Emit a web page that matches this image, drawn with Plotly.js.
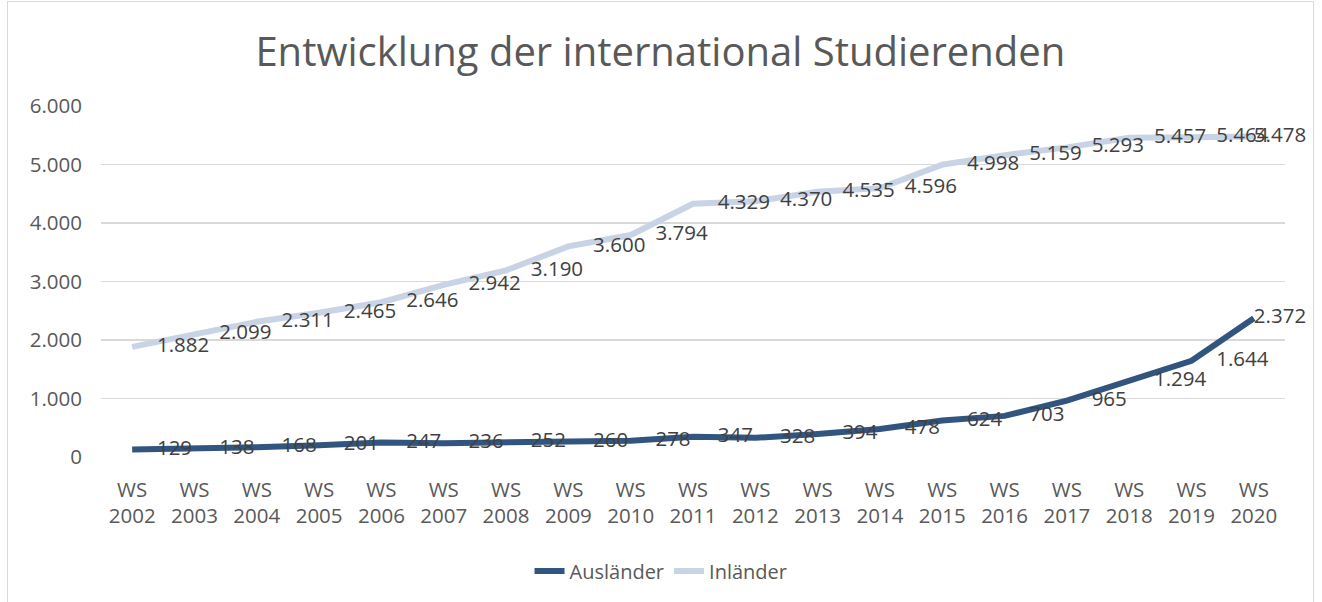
<!DOCTYPE html>
<html>
<head>
<meta charset="utf-8">
<script src="https://cdn.plot.ly/plotly-3.0.1.min.js"></script>
<style>
  html, body { margin: 0; padding: 0; background: #fff; }
  #chart { width: 1322px; height: 602px; position: absolute; left: 0; top: 0; }
  #frame { position: absolute; left: 7px; top: 1px; width: 1307px; height: 640px; border: 1px solid #d9d9d9; pointer-events: none; box-sizing: border-box; }
</style>
</head>
<body>
<div id="chart"></div>
<div id="frame"></div>
<script>
const semesters = ["WS 2002","WS 2003","WS 2004","WS 2005","WS 2006","WS 2007","WS 2008","WS 2009","WS 2010","WS 2011","WS 2012","WS 2013","WS 2014","WS 2015","WS 2016","WS 2017","WS 2018","WS 2019","WS 2020"];
const auslaender = [129,138,168,201,247,236,252,260,278,347,328,394,478,624,703,965,1294,1644,2372];
const inlaender = [1882,2099,2311,2465,2646,2942,3190,3600,3794,4329,4370,4535,4596,4998,5159,5293,5457,5464,5478];
const yTicks = [0,1000,2000,3000,4000,5000,6000];

const cats = semesters.map(s => s.replace(' ', '<br>'));
function fmt(v) { return String(v).replace(/\B(?=(\d{3})+(?!\d))/g, '.'); }

const FONT = '"Open Sans", "Noto Sans", sans-serif';
const darkBlue = '#32557f';
const lightBlue = '#c8d3e5';

function labelTrace(vals) {
  const last = vals.length - 1;
  return {
    x: cats, y: vals, type: 'scatter', mode: 'markers+text',
    text: vals.map(fmt), textposition: 'middle right',
    textfont: {family: FONT, size: 20.5, color: '#404040'},
    marker: {size: vals.map((v, i) => i === last ? 0 : 38), opacity: 0},
    cliponaxis: false, showlegend: false, hoverinfo: 'skip'
  };
}

const data = [
  {x: cats, y: auslaender, name: 'Ausländer', type: 'scatter', mode: 'lines',
   line: {color: darkBlue, width: 6}},
  {x: cats, y: inlaender, name: 'Inländer', type: 'scatter', mode: 'lines',
   line: {color: lightBlue, width: 6}},
  labelTrace(auslaender),
  labelTrace(inlaender)
];

const layout = {
  width: 1322, height: 602,
  margin: {l: 101, r: 37, t: 106, b: 145},
  paper_bgcolor: '#ffffff', plot_bgcolor: '#ffffff',
  separators: ',.',
  font: {family: FONT, color: '#595959'},
  title: {text: 'Entwicklung der international Studierenden',
          font: {family: FONT, size: 40, color: '#595959'},
          x: 0.4995, xref: 'container', xanchor: 'center',
          y: 1 - 52/602, yref: 'container', yanchor: 'middle'},
  xaxis: {type: 'category', range: [-0.5, semesters.length - 0.5], autorange: false,
          showgrid: false, zeroline: false, showline: false,
          ticks: '', tickfont: {family: FONT, size: 20.5, color: '#595959'},
          ticklabelstandoff: 18, fixedrange: true},
  yaxis: {range: [0, 6000], autorange: false, tickvals: yTicks, ticktext: yTicks.map(fmt),
          showgrid: true, gridcolor: '#d9d9d9', gridwidth: 1.3,
          zeroline: false, showline: false, ticks: '',
          tickfont: {family: FONT, size: 20.5, color: '#595959'},
          ticklabelstandoff: 18, fixedrange: true},
  showlegend: true,
  legend: {orientation: 'h', x: 0.473, xanchor: 'center', y: -0.325, yanchor: 'middle',
           font: {family: FONT, size: 20, color: '#595959'}, traceorder: 'normal'},
  hovermode: false
};

Plotly.newPlot('chart', data, layout, {displayModeBar: false, staticPlot: true});
</script>
</body>
</html>
